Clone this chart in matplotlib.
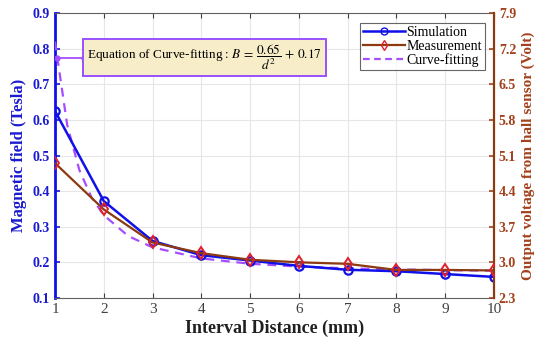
import numpy as np
import matplotlib
matplotlib.use("Agg")
import matplotlib.pyplot as plt
from matplotlib.lines import Line2D

# data
distance = [1, 2, 3, 4, 5, 6, 7, 8, 9, 10]
sim_tesla = [0.625, 0.372, 0.26, 0.22, 0.205, 0.19, 0.179, 0.175, 0.167, 0.159]
meas_volt = [4.95, 4.04, 3.39, 3.18, 3.05, 3.0, 2.97, 2.85, 2.85, 2.84]
fit_d = [1, 1.25, 1.5, 1.75, 2, 2.5, 3, 4, 5, 6, 7, 8, 9, 10]
fit_tesla = [0.82, 0.586, 0.459, 0.382, 0.3325, 0.274, 0.242, 0.211, 0.196, 0.188, 0.183, 0.18, 0.178, 0.1765]
left_ticks = [0.1, 0.2, 0.3, 0.4, 0.5, 0.6, 0.7, 0.8, 0.9]
right_ticks = [2.3, 3.0, 3.7, 4.4, 5.1, 5.8, 6.5, 7.2, 7.9]

_C = {"sim": "#1010e8", "meas": "#8c3a10", "meas_mk": "#e0202a", "fit": "#a64dff",
      "left": "#1a1ad0", "right": "#a3411c"}
SERIF = ["Liberation Serif", "DejaVu Serif"]
plt.rcParams["font.family"] = SERIF
plt.rcParams["mathtext.fontset"] = "stix"

fig = plt.figure(figsize=(5.5, 3.46), dpi=100)
ax = fig.add_axes([0.1, 0.139, 0.798, 0.823])
ax2 = ax.twinx()

ax.plot(fit_d, fit_tesla, "--", color=_C["fit"], lw=1.6, dashes=(4, 3), zorder=3)
ax.plot(distance, sim_tesla, "-o", color=_C["sim"], lw=1.8, ms=6, mfc="none", mew=1.6, zorder=4)
ax2.plot(distance, meas_volt, "-d", color=_C["meas"], lw=1.6, ms=6, mfc="none",
         mec=_C["meas_mk"], mew=1.4, zorder=4)

ax.set_xlim(1, 10)
ax.set_ylim(0.1, 0.9)
ax2.set_ylim(2.3, 7.9)
ax.set_xticks(distance)
ax.set_yticks(left_ticks)
ax2.set_yticks(right_ticks)
ax.set_yticklabels([f"{t:.1f}" for t in left_ticks])
ax2.set_yticklabels([f"{t:.1f}" for t in right_ticks])
ax.grid(True, color="#e6e6e6", lw=0.8)
ax.set_axisbelow(True)

ax.tick_params(axis="x", direction="in", top=True, labelsize=11, colors="#404040", pad=4)
ax.tick_params(axis="y", direction="in", labelsize=10, colors=_C["left"], width=1.2)
for lb in ax.get_yticklabels():
    lb.set_fontweight("bold")
ax2.tick_params(axis="y", direction="in", labelsize=10, colors=_C["right"], width=1.2)
for lb in ax2.get_yticklabels():
    lb.set_fontweight("bold")

ax.spines["left"].set_color(_C["sim"]); ax.spines["left"].set_linewidth(2)
ax2.spines["left"].set_visible(False)
ax2.spines["right"].set_color(_C["meas"]); ax2.spines["right"].set_linewidth(1.6)
for s in ("top", "bottom"):
    ax.spines[s].set_color("#606060")
    ax2.spines[s].set_visible(False)
ax.spines["right"].set_visible(False)

ax.set_xlabel("Interval Distance (mm)", fontsize=13, fontweight="bold", color="#202020", labelpad=2)
ax.set_ylabel("Magnetic field (Tesla)", fontsize=12, fontweight="bold", color=_C["left"], labelpad=4)
ax2.set_ylabel("Output voltage from hall sensor (Volt)", fontsize=11, fontweight="bold",
               color=_C["right"], labelpad=4)

# annotation pointer + equation box
ax.plot([1.04, 1.6], [0.775, 0.775], "-o", color=_C["fit"], lw=1.3, ms=3.5, zorder=5)
ax.text(1.66, 0.775, r"Equation of Curve-fitting : $B\,=\,\dfrac{0.65}{d^2}\,+\,0.17$",
        fontsize=9.5, va="center", ha="left",
        bbox=dict(boxstyle="square,pad=0.28", fc="#f7eec9", ec="#9a50ff", lw=1.4), zorder=6)

# legend
handles = [Line2D([], [], color=_C["sim"], marker="o", mfc="none", lw=1.8, ms=5),
           Line2D([], [], color=_C["meas"], marker="d", mfc="none", mec=_C["meas_mk"], lw=1.6, ms=5),
           Line2D([], [], color=_C["fit"], ls="--", lw=1.6, dashes=(3, 2))]
leg = ax2.legend(handles, ["Simulation", "Measurement", "Curve-fitting"], loc="upper right",
                 bbox_to_anchor=(0.985, 0.975), fontsize=10, frameon=True, fancybox=False,
                 edgecolor="#404040", handlelength=3.0, handletextpad=0.1, borderpad=0.2,
                 labelspacing=0.05, borderaxespad=0.2)
leg.get_frame().set_linewidth(0.8)

fig.savefig("out.png", dpi=100)
